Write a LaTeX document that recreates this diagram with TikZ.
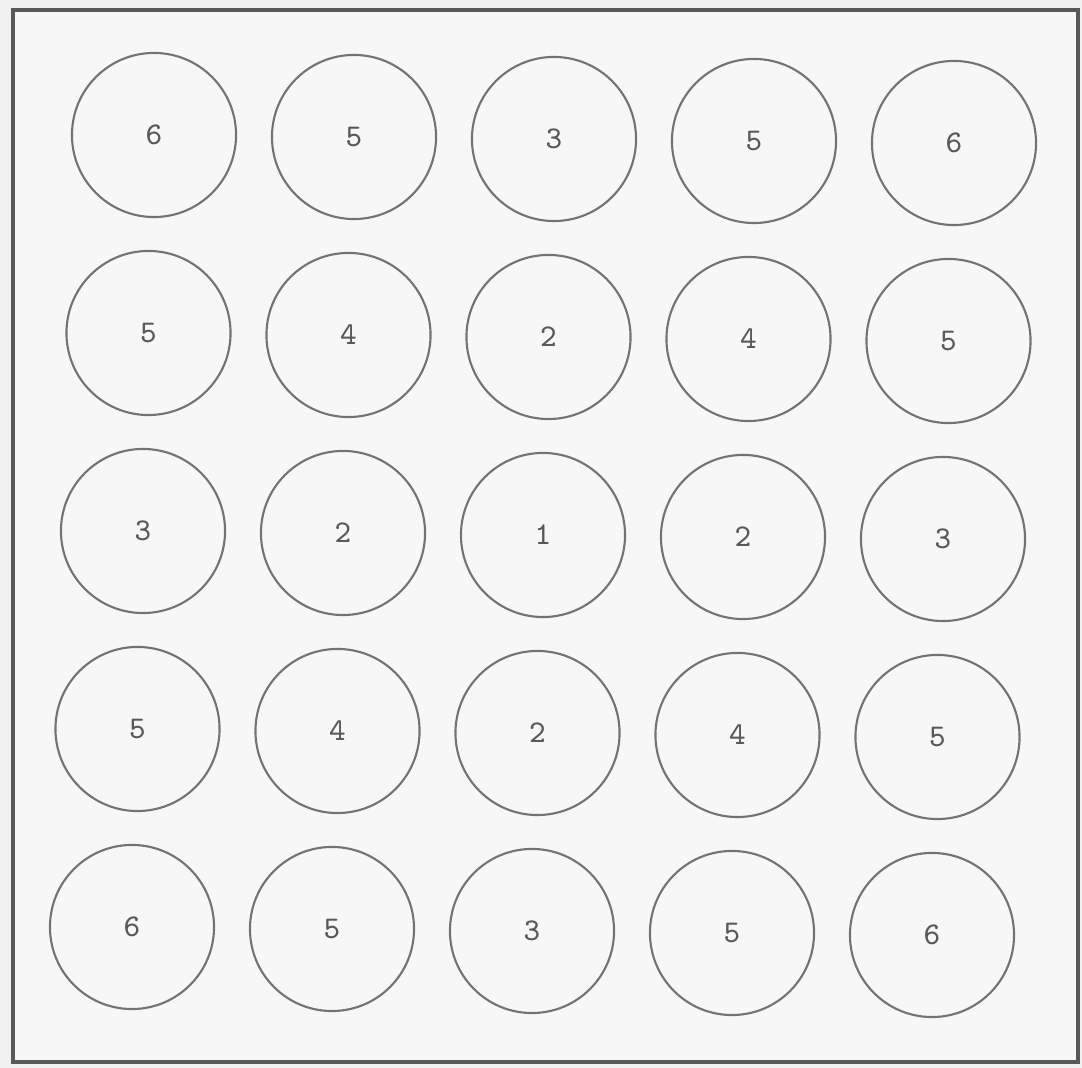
\documentclass[tikz,border=0pt]{standalone}
\usepackage{tikz}
\usetikzlibrary{positioning}

\begin{document}
\begin{tikzpicture}[
    x=0.01cm, y=-0.01cm,
    pin/.style={circle, draw=black!55, line width=0.6pt, fill=#1, minimum size=1.64cm, inner sep=0pt, font=\ttfamily\small, text=black!65},
    pin/.default={black!3},
    frame/.style={draw=black!65, line width=0.9pt, fill=black!3}
]

% === FONDO Y MARCO ===
\useasboundingbox (0,0) rectangle (1082,1068);
\fill[black!6] (0,0) rectangle (1082,1068);
\draw[frame] (13,10) rectangle (1078,1062);

% === BARRAS (5 x 5) ===
\foreach \row/\vals in {0/{6,5,3,5,6}, 1/{5,4,2,4,5}, 2/{3,2,1,2,3}, 3/{5,4,2,4,5}, 4/{6,5,3,5,6}}
  \foreach \v [count=\c from 0] in \vals
    \node[pin] (pin-\row-\c) at ({154-5.5*\row+200*\c}, {135+198*\row+2*\c}) {\v};

\end{tikzpicture}
\end{document}
